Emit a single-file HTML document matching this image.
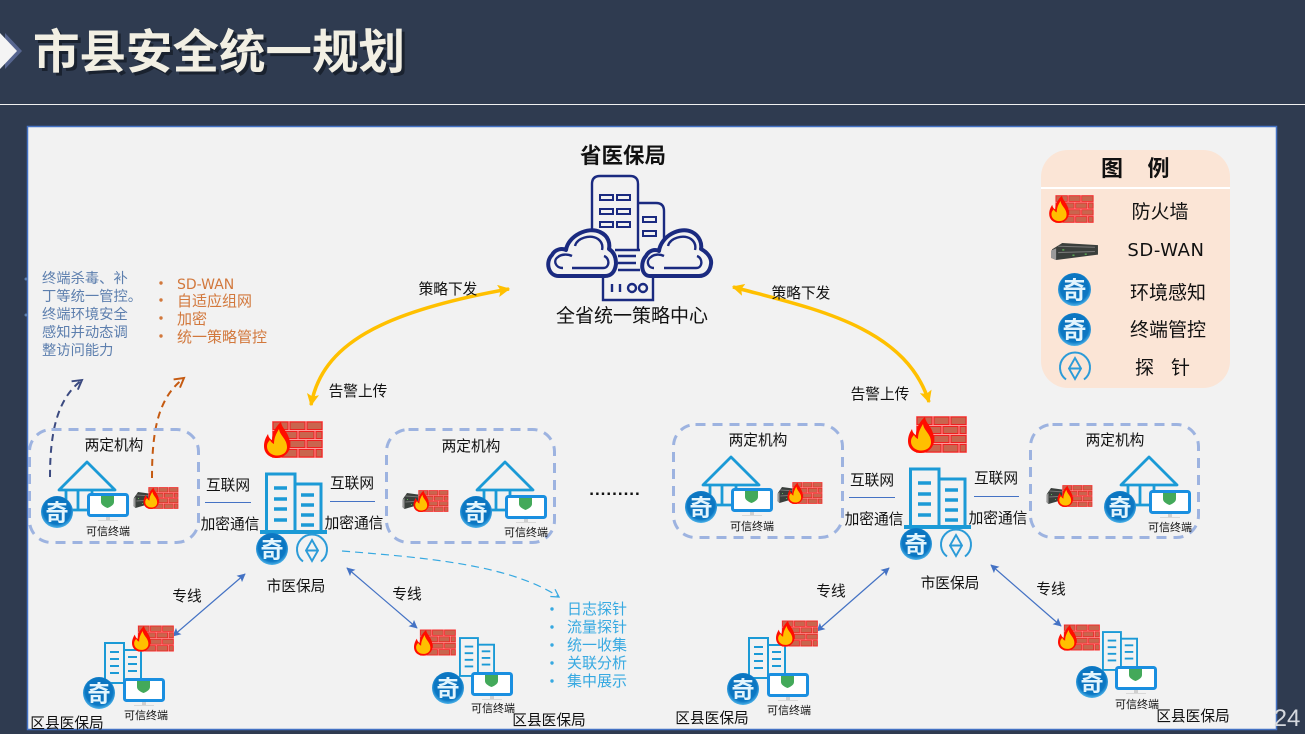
<!DOCTYPE html>
<html lang="zh"><head><meta charset="utf-8"><title>市县安全统一规划</title>
<style>
html,body{margin:0;padding:0;background:#2f3b50;width:1305px;height:734px;overflow:hidden}
svg{display:block}
text{font-family:"Liberation Sans","Noto Sans CJK SC",sans-serif;fill:#111}
.t14{font-size:14.7px;text-anchor:middle}
.t10{font-size:11px;text-anchor:middle}
.b{font-size:14.300px;fill:#5d7fae}
.o{font-size:15px;fill:#d2783c}
.c{font-size:15px;fill:#37a9e1}
</style></head><body>
<svg width="1305" height="734" viewBox="0 0 1305 734" xmlns="http://www.w3.org/2000/svg">
<defs>
<radialGradient id="qg" cx="50%" cy="45%" r="55%"><stop offset="0" stop-color="#0f6db5"/><stop offset=".78" stop-color="#0b78c4"/><stop offset="1" stop-color="#4fb4ea"/></radialGradient>
<marker id="ab" viewBox="0 0 10 10" refX="9" refY="5" markerWidth="7" markerHeight="7" orient="auto-start-reverse"><path d="M0 0L10 5L0 10L2 5Z" fill="#4472c4"/></marker>
<marker id="ay" viewBox="0 0 10 10" refX="9" refY="5" markerWidth="3.500" markerHeight="3.500" orient="auto-start-reverse"><path d="M0 0L10 5L0 10L2 5Z" fill="#ffc000"/></marker>
<marker id="ad" viewBox="0 0 10 10" refX="8" refY="5" markerWidth="6.500" markerHeight="6.500" orient="auto"><path d="M1 1L8 5L1 9" fill="none" stroke="#3b4a80" stroke-width="1.500"/></marker>
<marker id="ar" viewBox="0 0 10 10" refX="8" refY="5" markerWidth="6.500" markerHeight="6.500" orient="auto"><path d="M1 1L8 5L1 9" fill="none" stroke="#c55a11" stroke-width="1.500"/></marker>
<marker id="ac" viewBox="0 0 10 10" refX="8" refY="5" markerWidth="9" markerHeight="9" orient="auto"><path d="M1 1L8 5L1 9" fill="none" stroke="#37a9e1" stroke-width="1.200"/></marker>

<symbol id="fw" viewBox="0 0 59 37" overflow="visible">
<rect x="8" y="0" width="51" height="37" fill="#ff9a9a"/>
<g fill="#c9654e" stroke="#f02020" stroke-width="1">
<rect x="9" y="1" width="15" height="7.500"/><rect x="26" y="1" width="15" height="7.500"/><rect x="43" y="1" width="15" height="7.500"/>
<rect x="9" y="10.500" width="7" height="7"/><rect x="18" y="10.500" width="15" height="7"/><rect x="35" y="10.500" width="15" height="7"/><rect x="52" y="10.500" width="6" height="7"/>
<rect x="9" y="19.500" width="15" height="7"/><rect x="26" y="19.500" width="15" height="7"/><rect x="43" y="19.500" width="15" height="7"/>
<rect x="9" y="28.500" width="7" height="7.500"/><rect x="18" y="28.500" width="15" height="7.500"/><rect x="35" y="28.500" width="15" height="7.500"/><rect x="52" y="28.500" width="6" height="7.500"/>
</g>
<path d="M17 1C18 8 25 11 26 22C27 31 20 37 13 37C5 37 0 32 0 25C0 20 2 16 4 13C4.500 16 6 18 8 19C8 12 12 5 17 1Z" fill="#ff0d00"/>
<path d="M15 8C16 15 23 18 23 26C23 32 18 34.500 13 34.500C8 34.500 3 31 3 25.500C3 22 5 20 6 19C7 21 8 22 10 23C10 17 12 13 15 8Z" fill="#ffc000"/>
</symbol>

<symbol id="sd" viewBox="0 0 48 18" overflow="visible" preserveAspectRatio="none">
<path d="M2 7L12 1L47 3L47 12L6 17L1 15Z" fill="#3a3f3c"/>
<path d="M1 8L6 6L6 17L1 15Z" fill="#9a9a9a"/>
<path d="M8 4L44 5M8 10L44 9" stroke="#777" stroke-width="1"/>
<g fill="#63d05a"><rect x="12" y="7" width="2" height="1"/><rect x="22" y="12" width="2" height="1"/><rect x="34" y="11" width="2" height="1"/></g>
</symbol>

<symbol id="qi" viewBox="0 0 32 32" overflow="visible">
<circle cx="16" cy="16" r="16" fill="url(#qg)"/>
<text x="16" y="24.500" text-anchor="middle" style="font-size:23px;font-weight:700;fill:#e3f5fd">奇</text>
</symbol>

<symbol id="pr" viewBox="0 0 32 32" overflow="visible">
<path d="M7 27.500A15 15 0 1 1 25 27.500" fill="none" stroke="#2b9bd8" stroke-width="2"/>
<path d="M16 6L22 16.500L16 27L10 16.500Z M10 16.500H22" fill="none" stroke="#2b9bd8" stroke-width="1.900"/>
</symbol>

<symbol id="mon" viewBox="0 0 42 28" overflow="visible">
<rect x="1.500" y="1.500" width="39" height="21" rx="2" fill="#fff" stroke="#1a8fe0" stroke-width="3"/>
<rect x="19" y="24" width="4" height="3" fill="#cfcfcf"/><rect x="11" y="27" width="20" height="1" fill="#d8d8d8"/>
<path d="M14 3H27V9C27 12 23 14 20.500 15C18 14 14 12 14 9Z" fill="#43a95a"/>
</symbol>

<symbol id="hs" viewBox="0 0 58 50" overflow="visible">
<g fill="none" stroke="#1b9ad6" stroke-width="2.800" stroke-linejoin="round">
<path d="M1 29L29 1L57 29Z"/>
<path d="M20 29V49M34 29V37M8 29V49M8 49H32"/>
</g>
</symbol>

<symbol id="bl" viewBox="0 0 67 62" overflow="visible">
<g fill="none" stroke="#1b9ad6" stroke-width="3">
<path d="M6.500 60V2H35V60"/><path d="M35 12H61V60"/>
</g>
<path d="M0 60H67" stroke="#1b9ad6" stroke-width="4"/>
<g stroke="#1b9ad6" stroke-width="3.600">
<path d="M14 16H27M14 27H27M14 37H27M14 48H27M41 23H54M41 33H54M41 43H54M41 53H54"/>
</g>
</symbol>

<symbol id="bs" viewBox="0 0 38 42" overflow="visible">
<g fill="#f2f2f2" stroke="#1b9ad6" stroke-width="2">
<rect x="1" y="1" width="19" height="40"/><rect x="20" y="8" width="17" height="33"/>
</g>
<g stroke="#1b9ad6" stroke-width="2"><path d="M6 10H15M6 17H15M6 24H15M6 31H15M24 15H33M24 22H33M24 29H33"/></g>
</symbol>
</defs>

<rect width="1305" height="734" fill="#2f3b50"/>
<!-- header -->
<path d="M5 33L22 51L5 69Z" fill="#56658f"/>
<path d="M0 33L17 51L0 69Z" fill="#f4f4f4"/>
<text x="33" y="68.500" textLength="372" lengthAdjust="spacingAndGlyphs" style="font-size:47px;font-weight:700;fill:#141a24;opacity:.75" transform="translate(3 3)">市县安全统一规划</text>
<text x="33" y="68.500" textLength="372" lengthAdjust="spacingAndGlyphs" style="font-size:47px;font-weight:700;fill:#f2efe3">市县安全统一规划</text>
<rect x="0" y="104" width="1305" height="1" fill="#f0f0f0"/>
<!-- panel -->
<rect x="27.500" y="126.500" width="1249" height="603" fill="#f2f2f2" stroke="#4472c4" stroke-width="1.500"/>
<text x="1287" y="726" text-anchor="middle" style="font-size:24px;fill:#d5d8de">24</text>

<!-- centre -->
<text x="623" y="163" text-anchor="middle" style="font-size:21.500px;font-weight:700">省医保局</text>
<g fill="none" stroke="#1a2a80" stroke-width="2.400">
<path d="M592 250V184Q592 176 600 176H630Q638 176 638 184V250"/>
<path d="M638 203H656Q664 203 664 211V240"/>
<path d="M603 277V300H653V277"/>
<path d="M615 250H640M618 256H636M618 263H636M618 270H640"/>
<g stroke-width="2"><rect x="600" y="195" width="13" height="5"/><rect x="617" y="195" width="13" height="5"/><rect x="600" y="209" width="13" height="5"/><rect x="617" y="209" width="13" height="5"/><rect x="600" y="222" width="13" height="5"/><rect x="617" y="222" width="13" height="5"/><rect x="643" y="217" width="13" height="5"/><rect x="643" y="231" width="13" height="5"/></g>
</g>
<g fill="#f2f2f2" stroke="#1a2a80" stroke-width="4" stroke-linejoin="round">
<path d="M559 276C548 276 545 262 552 255C555 249 562 248 566 250C568 236 588 226 600 232C609 236 610 244 609 249C614 252 616 258 616 264C615 272 611 276 605 276Z"/>
<path d="M563 268C555 268 553 260 558 257C561 254 568 254 572 256M575 246C577 238 590 234 598 239C602 242 603 246 602 250M572 268H603C610 268 610 258 604 256" fill="none" stroke-width="2.400"/>
<path d="M650 276C641 276 640 262 646 256C649 250 655 249 659 251C661 236 680 226 692 232C700 236 702 244 701 249C707 252 712 258 711 264C710 272 705 276 699 276Z"/>
<path d="M654 268C647 268 646 260 651 257C654 254 660 254 664 256M668 246C670 238 683 234 691 239C695 242 696 246 695 250M664 268H696C703 268 703 258 697 256" fill="none" stroke-width="2.400"/>
</g>
<g fill="none" stroke="#1a2a80" stroke-width="2.400"><path d="M612 284V292M620 284V292"/><circle cx="632" cy="288" r="4"/><circle cx="643" cy="288" r="4"/></g>
<text x="632" y="322" text-anchor="middle" style="font-size:19px">全省统一策略中心</text>

<!-- yellow arrows -->
<path d="M311 405C322 345 380 312 509 289" fill="none" stroke="#ffc000" stroke-width="3.500" marker-start="url(#ay)" marker-end="url(#ay)"/>
<path d="M733 287C810 308 905 325 929 402" fill="none" stroke="#ffc000" stroke-width="3.500" marker-start="url(#ay)" marker-end="url(#ay)"/>
<text class="t14" x="448" y="294">策略下发</text>
<text class="t14" x="801" y="298">策略下发</text>
<text class="t14" x="358" y="396">告警上传</text>
<text class="t14" x="880" y="399">告警上传</text>

<!-- legend -->
<rect x="1041" y="150" width="189" height="238" rx="27" fill="#fbe5d6"/>
<rect x="1041" y="187" width="189" height="2" fill="#fff"/>
<text x="1112" y="176" text-anchor="middle" style="font-size:22px;font-weight:700">图</text>
<text x="1158.500" y="176" text-anchor="middle" style="font-size:22px;font-weight:700">例</text>
<use href="#fw" x="1049" y="195" width="45" height="28"/>
<use href="#sd" x="1050" y="242" width="49" height="19"/>
<use href="#qi" x="1058" y="273" width="33" height="33"/>
<use href="#qi" x="1058" y="313" width="33" height="33"/>
<use href="#pr" x="1059" y="352" width="32" height="32"/>
<g style="font-size:19px">
<text x="1160" y="218" text-anchor="middle">防火墙</text>
<text x="1166" y="256" text-anchor="middle" style="font-family:'DejaVu Sans',sans-serif;font-size:18px;letter-spacing:.6px">SD-WAN</text>
<text x="1168" y="299" text-anchor="middle">环境感知</text>
<text x="1168" y="336" text-anchor="middle">终端管控</text>
<text x="1144.500" y="374" text-anchor="middle">探</text>
<text x="1180.500" y="374" text-anchor="middle">针</text>
</g>

<!-- left lists -->
<text class="b" x="42" y="283">终端杀毒、补</text>
<text class="b" x="42" y="301">丁等统一管控。</text>
<text class="b" x="42" y="319">终端环境安全</text>
<text class="b" x="42" y="337">感知并动态调</text>
<text class="b" x="42" y="355">整访问能力</text>
<circle cx="26" cy="279" r="1.500" fill="#5d7fae"/><circle cx="26" cy="315" r="1.500" fill="#5d7fae"/>
<text class="o" x="177" y="289" style="font-family:'DejaVu Sans',sans-serif;font-size:14px">SD-WAN</text>
<text class="o" x="177" y="306">自适应组网</text>
<text class="o" x="177" y="324">加密</text>
<text class="o" x="177" y="342">统一策略管控</text>
<g fill="#d2783c"><circle cx="161" cy="283" r="1.700"/><circle cx="161" cy="300" r="1.700"/><circle cx="161" cy="318" r="1.700"/><circle cx="161" cy="336" r="1.700"/></g>
<path d="M50 477C50 430 58 398 82 380" fill="none" stroke="#3b4a80" stroke-width="2" stroke-dasharray="7 5" marker-end="url(#ad)"/>
<path d="M152 478C152 430 158 398 184 378" fill="none" stroke="#c55a11" stroke-width="2" stroke-dasharray="7 5" marker-end="url(#ar)"/>

<!-- LEFT CLUSTER -->
<rect x="29.500" y="429.500" width="169" height="113" rx="22" fill="none" stroke="#9db3e0" stroke-width="3" stroke-dasharray="10 7"/>
<rect x="386.500" y="429.500" width="168" height="113" rx="22" fill="none" stroke="#9db3e0" stroke-width="3" stroke-dasharray="10 7"/>
<text class="t14" x="114" y="450">两定机构</text>
<text class="t14" x="471" y="451">两定机构</text>
<use href="#hs" x="58" y="461" width="58" height="50"/>
<use href="#qi" x="41" y="496" width="32" height="32"/>
<use href="#mon" x="87" y="493" width="42" height="28"/>
<text class="t10" x="108" y="535">可信终端</text>
<use href="#sd" x="133" y="491" width="20" height="18"/>
<use href="#fw" x="143" y="487" width="36" height="22"/>
<use href="#hs" x="476" y="461" width="58" height="50"/>
<use href="#qi" x="460" y="496" width="32" height="32"/>
<use href="#mon" x="505" y="495" width="42" height="28"/>
<text class="t10" x="526" y="536">可信终端</text>
<use href="#sd" x="402" y="492" width="20" height="18"/>
<use href="#fw" x="413" y="490" width="36" height="22"/>
<use href="#fw" x="264" y="421" width="59" height="37"/>
<use href="#bl" x="260" y="472" width="67" height="62"/>
<use href="#qi" x="256" y="533" width="32" height="32"/>
<use href="#pr" x="296" y="534" width="32" height="32"/>
<text class="t14" x="228" y="490">互联网</text>
<rect x="205" y="502" width="46" height="1" fill="#4472c4"/>
<text class="t14" x="230" y="529">加密通信</text>
<text class="t14" x="352" y="488">互联网</text>
<rect x="330" y="501" width="45" height="1" fill="#4472c4"/>
<text class="t14" x="354" y="528">加密通信</text>
<text class="t14" x="296" y="591">市医保局</text>
<path d="M342 551C430 558 510 565 559 597" fill="none" stroke="#37a9e1" stroke-width="1.200" stroke-dasharray="8 5" marker-end="url(#ac)"/>
<text class="c" x="567" y="614">日志探针</text><text class="c" x="567" y="632">流量探针</text><text class="c" x="567" y="650">统一收集</text><text class="c" x="567" y="668">关联分析</text><text class="c" x="567" y="686">集中展示</text>
<g fill="#37a9e1"><circle cx="552" cy="609" r="1.700"/><circle cx="552" cy="627" r="1.700"/><circle cx="552" cy="645" r="1.700"/><circle cx="552" cy="663" r="1.700"/><circle cx="552" cy="681" r="1.700"/></g>
<text x="615" y="495" text-anchor="middle" style="font-size:17px;font-weight:700;letter-spacing:1px">.........</text>

<!-- RIGHT CLUSTER -->
<rect x="673.500" y="424.500" width="169" height="113" rx="22" fill="none" stroke="#9db3e0" stroke-width="3" stroke-dasharray="10 7"/>
<rect x="1030.500" y="424.500" width="168" height="113" rx="22" fill="none" stroke="#9db3e0" stroke-width="3" stroke-dasharray="10 7"/>
<text class="t14" x="758" y="445">两定机构</text>
<text class="t14" x="1115" y="445">两定机构</text>
<use href="#hs" x="702" y="456" width="58" height="50"/>
<use href="#qi" x="685" y="491" width="32" height="32"/>
<use href="#mon" x="731" y="488" width="42" height="28"/>
<text class="t10" x="752" y="530">可信终端</text>
<use href="#sd" x="777" y="486" width="20" height="18"/>
<use href="#fw" x="787" y="482" width="36" height="22"/>
<use href="#hs" x="1120" y="456" width="58" height="50"/>
<use href="#qi" x="1104" y="491" width="32" height="32"/>
<use href="#mon" x="1149" y="490" width="42" height="28"/>
<text class="t10" x="1170" y="531">可信终端</text>
<use href="#sd" x="1046" y="487" width="20" height="18"/>
<use href="#fw" x="1057" y="485" width="36" height="22"/>
<use href="#fw" x="908" y="416" width="59" height="37"/>
<use href="#bl" x="904" y="467" width="67" height="62"/>
<use href="#qi" x="900" y="528" width="32" height="32"/>
<use href="#pr" x="940" y="529" width="32" height="32"/>
<text class="t14" x="872" y="485">互联网</text>
<rect x="849" y="497" width="46" height="1" fill="#4472c4"/>
<text class="t14" x="874" y="524">加密通信</text>
<text class="t14" x="996" y="483">互联网</text>
<rect x="974" y="496" width="45" height="1" fill="#4472c4"/>
<text class="t14" x="998" y="523">加密通信</text>
<text class="t14" x="950" y="588">市医保局</text>

<!-- lines -->
<g stroke="#4472c4" stroke-width="1.200" fill="none">
<path d="M245 574L173 636" marker-start="url(#ab)" marker-end="url(#ab)"/>
<path d="M347 568L417 628" marker-start="url(#ab)" marker-end="url(#ab)"/>
<path d="M889 568L817 631" marker-start="url(#ab)" marker-end="url(#ab)"/>
<path d="M991 565L1061 626" marker-start="url(#ab)" marker-end="url(#ab)"/>
</g>
<text class="t14" x="187" y="601">专线</text>
<text class="t14" x="407" y="599">专线</text>
<text class="t14" x="831" y="596">专线</text>
<text class="t14" x="1051" y="594">专线</text>

<!-- county offices -->
<use href="#bs" x="104" y="642" width="38" height="42"/>
<use href="#fw" x="132" y="625" width="42" height="27"/>
<use href="#mon" x="123" y="678" width="42" height="28"/>
<use href="#qi" x="83" y="677" width="32" height="32"/>
<text class="t10" x="146" y="719">可信终端</text>
<text x="67" y="728" text-anchor="middle" style="font-size:14.700px">区县医保局</text>

<use href="#bs" x="459" y="636" width="36" height="42"/>
<use href="#fw" x="414" y="629" width="42" height="27"/>
<use href="#mon" x="471" y="672" width="42" height="28"/>
<use href="#qi" x="432" y="672" width="32" height="32"/>
<text class="t10" x="493" y="712">可信终端</text>
<text x="549" y="725" text-anchor="middle" style="font-size:14.700px">区县医保局</text>

<use href="#bs" x="748" y="637" width="38" height="42"/>
<use href="#fw" x="776" y="620" width="42" height="27"/>
<use href="#mon" x="767" y="673" width="42" height="28"/>
<use href="#qi" x="727" y="673" width="32" height="32"/>
<text class="t10" x="789" y="714">可信终端</text>
<text x="712" y="723" text-anchor="middle" style="font-size:14.700px">区县医保局</text>

<use href="#bs" x="1102" y="630" width="36" height="42"/>
<use href="#fw" x="1058" y="624" width="42" height="27"/>
<use href="#mon" x="1115" y="666" width="42" height="28"/>
<use href="#qi" x="1076" y="666" width="32" height="32"/>
<text class="t10" x="1137" y="708">可信终端</text>
<text x="1193" y="721" text-anchor="middle" style="font-size:14.700px">区县医保局</text>
</svg>
</body></html>
